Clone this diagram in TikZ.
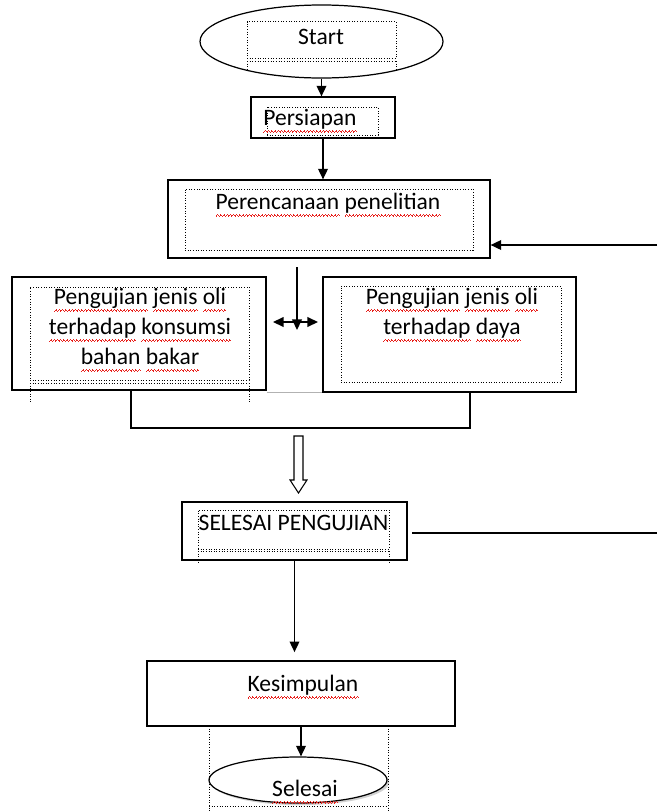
\documentclass[tikz,border=0pt]{standalone}
\usepackage{fontspec}
\setmainfont{Carlito}
\usepackage{tikz}
\usetikzlibrary{arrows.meta,positioning,shapes.geometric,shadows}
\definecolor{cSq}{HTML}{E8201C}
\tikzset{
  box/.style={draw,line width=0.7pt,inner sep=0pt},
  lbl/.style={draw,densely dotted,line width=0.5pt,inner sep=0pt},
  txt/.style={font=\fontsize{13.4}{17}\selectfont,inner sep=0pt,align=center},
  link/.style={line width=0.8pt,-{Triangle[length=6pt,width=5.5pt]}},
  both/.style={line width=0.8pt,{Triangle[length=6pt,width=5.5pt]}-{Triangle[length=6pt,width=5.5pt]}}}
\newcommand{\pxl}[1]{#1*0.02cm}
\newcommand{\wavecell}{\textcolor{cSq}{\rule[-3.8pt]{0.45pt}{0.5pt}\rule[-3.3pt]{0.45pt}{0.5pt}\rule[-2.8pt]{0.45pt}{0.5pt}\rule[-3.3pt]{0.45pt}{0.5pt}}}
\newcommand{\sq}[1]{\leavevmode\setbox0\hbox{#1}\rlap{\hbox to \wd0{\xleaders\hbox{\wavecell}\hfill}}\box0\relax}
\begin{document}
\begin{tikzpicture}[x=0.02cm,y=-0.02cm]
  \useasboundingbox (0,0) rectangle (657,812);
  % start
  \node[ellipse,draw,line width=0.7pt,minimum width=\pxl{243},minimum height=\pxl{73}] (start) at (321.5,41.5) {};
  \node[lbl,minimum width=\pxl{149},minimum height=\pxl{37}] (startLbl) at (321.5,40) {};
  \draw[lbl] (247,61) -- (396,61) (247,61) -- (247,70) (396,61) -- (396,70);
  \node[txt] (startTxt) at (321,37) {Start};
  % persiapan
  \node[box,minimum width=\pxl{144},minimum height=\pxl{41}] (siap) at (323,117.5) {};
  \node[lbl,minimum width=\pxl{111},minimum height=\pxl{28}] (siapLbl) at (322.5,121) {};
  \node[txt] (siapTxt) at (310,121) {\sq{Persiapan}};
  \draw[link] (start.south) -- (start.south |- siap.north);
  % perencanaan
  \node[box,minimum width=\pxl{322},minimum height=\pxl{78}] (rencana) at (329,219) {};
  \node[lbl,minimum width=\pxl{288},minimum height=\pxl{61}] (rencanaLbl) at (329,219.5) {};
  \node[txt] (rencanaTxt) at (328,205) {\sq{Perencanaan} \sq{penelitian}};
  \draw[link] (siap.south) -- (siap.south |- rencana.north);
  \coordinate (backIn) at (657,245);
  \draw[link] (backIn) -- (rencana.east |- backIn);
  % pengujian
  \node[box,minimum width=\pxl{254},minimum height=\pxl{113}] (uji1) at (139,333.5) {};
  \node[lbl,minimum width=\pxl{219},minimum height=\pxl{93}] (uji1Lbl) at (139.5,333.5) {};
  \draw[lbl] (30,383) -- (249,383) (30,383) -- (30,402) (249,383) -- (249,402);
  \node[txt] (uji1Txt) at (140,330) {\sq{Pengujian} \sq{jenis} \sq{oli}\\\sq{terhadap} \sq{konsumsi}\\\sq{bahan} \sq{bakar}};
  \node[box,minimum width=\pxl{253},minimum height=\pxl{115}] (uji2) at (449.5,334.5) {};
  \node[lbl,minimum width=\pxl{220},minimum height=\pxl{96}] (uji2Lbl) at (451,334) {};
  \node[txt] (uji2Txt) at (452,315) {\sq{Pengujian} \sq{jenis} \sq{oli}\\\sq{terhadap} \sq{daya}};
  \draw[gray!60,line width=0.7pt] (uji1.south east |- uji2.south) -- (uji2.south west);
  \coordinate (split) at (297,267);
  \coordinate (splitEnd) at (297,330);
  \draw[link] (split) -- (splitEnd);
  \coordinate (toL) at (273,322);
  \coordinate (toR) at (318,322);
  \draw[both] (toL) -- (toR);
  \coordinate (joinL) at (131,428);
  \coordinate (joinR) at (470,428);
  \draw[line width=0.7pt] (uji1.south -| joinL) |- (joinR) -- (uji2.south -| joinR);
  % hollow arrow
  \draw[line width=0.6pt] (294,436) -- (303,436) -- (303,480) -- (307,480) -- (298.5,493) -- (290,480) -- (294,480) -- cycle;
  % selesai pengujian
  \node[box,minimum width=\pxl{225},minimum height=\pxl{58}] (done) at (294.5,531) {};
  \node[lbl,minimum width=\pxl{191},minimum height=\pxl{39}] (doneLbl) at (293.5,529.5) {};
  \draw[lbl] (198,551) -- (389,551) (198,551) -- (198,562) (389,551) -- (389,562);
  \node[txt] (doneTxt) at (293.5,523) {SELESAI PENGUJIAN};
  \coordinate (loopIn) at (412,533);
  \coordinate (loopOut) at (657,533);
  \draw[line width=0.7pt] (loopIn) -- (loopOut);
  % kesimpulan
  \node[box,line width=1pt,minimum width=\pxl{308},minimum height=\pxl{65}] (simpul) at (301,693.5) {};
  \node[txt] (simpulTxt) at (303,687) {\sq{Kesimpulan}};
  \draw[link,shorten >=0.16cm] (done.south) -- (done.south |- simpul.north);
  % selesai
  \node[ellipse,draw,line width=0.7pt,fill=white,drop shadow={shadow xshift=1.2pt,shadow yshift=-1.2pt,fill=gray!70},minimum width=\pxl{178},minimum height=\pxl{46}] (finish) at (298,780) {};
  \draw[lbl] (209,726) -- (209,812) (388,726) -- (388,812) (209,806) -- (388,806);
  \node[txt] (finishTxt) at (305,792) {\sq{Selesai}};
  \draw[link] (simpul.south) -- (simpul.south |- finish.north);
\end{tikzpicture}
\end{document}
